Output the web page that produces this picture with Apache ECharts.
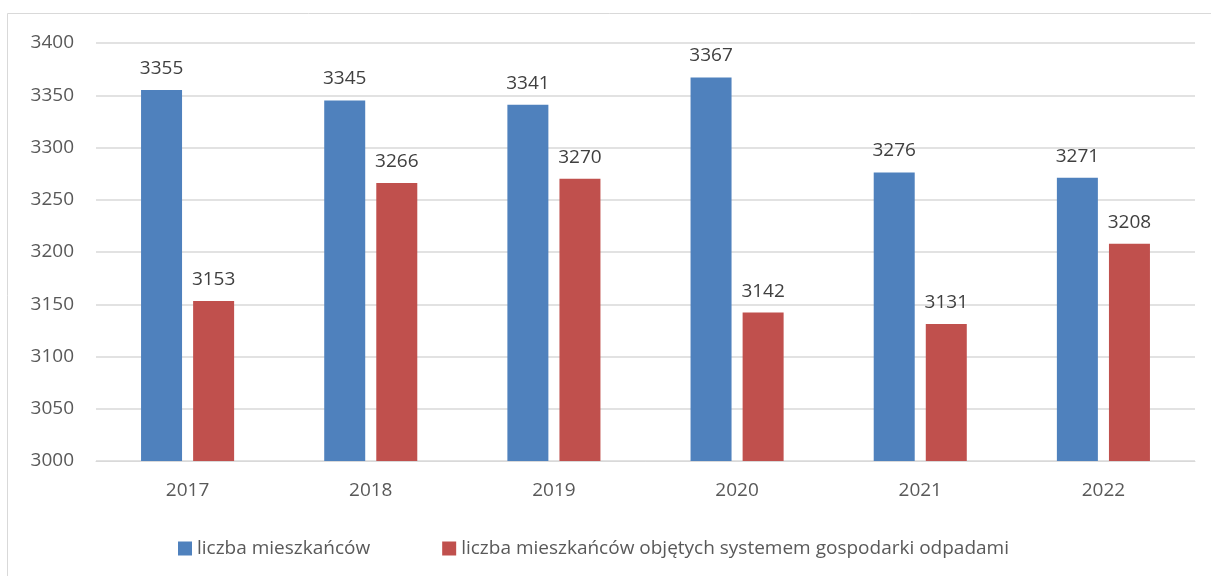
<!DOCTYPE html>
<html>
<head>
<meta charset="utf-8">
<script src="https://cdn.jsdelivr.net/npm/echarts@6/dist/echarts.min.js"></script>
<style>
  html, body { margin: 0; padding: 0; background: #fff; }
  #chart { width: 1211px; height: 576px; }
</style>
</head>
<body>
<div id="chart"></div>
<script>
const years = ['2017', '2018', '2019', '2020', '2021', '2022'];
const mieszkancy = [3355, 3345, 3341, 3367, 3276, 3271];
const objeci = [3153, 3266, 3270, 3142, 3131, 3208];
const seriesNames = ['liczba mieszkańców', 'liczba mieszkańców objętych systemem gospodarki odpadami'];

const chart = echarts.init(document.getElementById('chart'));

const textColor = '#595959';
const font = 'Open Sans';

const labelStyle = {
  show: true,
  position: 'top',
  distance: 12,
  color: '#404040',
  fontFamily: font,
  fontSize: 19
};

chart.setOption({
  backgroundColor: '#fff',
  animation: false,
  graphic: [{
    type: 'rect',
    shape: { x: 7.5, y: 13.5, width: 1210, height: 570 },
    style: { fill: 'none', stroke: '#d9d9d9', lineWidth: 1 },
    silent: true
  }],
  grid: { left: 96, right: 16, top: 43, bottom: 115 },
  legend: {
    top: 534,
    left: 173,
    itemWidth: 14,
    itemHeight: 14,
    itemGap: 72,
    icon: 'rect',
    textStyle: { color: textColor, fontFamily: font, fontSize: 19 },
    data: seriesNames
  },
  xAxis: {
    type: 'category',
    data: years,
    axisLine: { show: true, lineStyle: { color: '#d9d9d9', width: 1 } },
    axisTick: { show: false },
    axisLabel: { color: textColor, fontFamily: font, fontSize: 19, margin: 20 }
  },
  yAxis: {
    type: 'value',
    min: 3000,
    max: 3400,
    interval: 50,
    axisLine: { show: false },
    axisTick: { show: false },
    axisLabel: {
      color: textColor, fontFamily: font, fontSize: 19, margin: 22,
      formatter: v => String(v)
    },
    splitLine: { lineStyle: { color: '#d9d9d9', width: 1.5 } }
  },
  series: [
    {
      name: seriesNames[0],
      type: 'bar',
      data: mieszkancy,
      barWidth: 41,
      barGap: '27%',
      itemStyle: { color: '#4f81bd' },
      label: labelStyle
    },
    {
      name: seriesNames[1],
      type: 'bar',
      data: objeci,
      barWidth: 41,
      itemStyle: { color: '#c0504d' },
      label: labelStyle
    }
  ]
});
</script>
</body>
</html>
